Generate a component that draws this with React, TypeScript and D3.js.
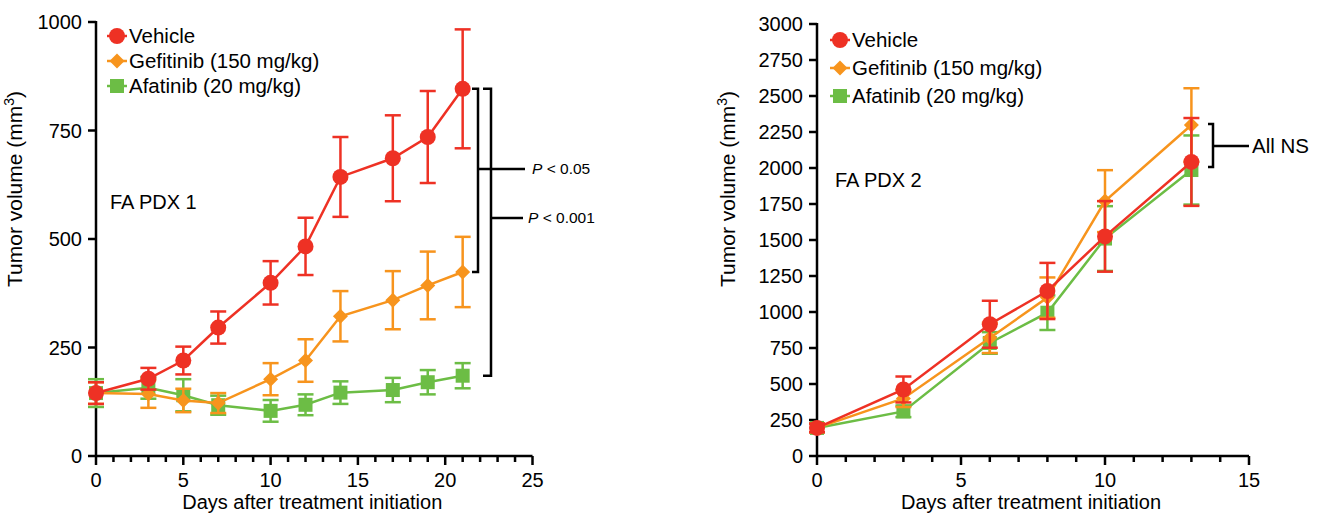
import React from 'react';
import * as d3 from 'd3';

// left panel: FA PDX 1
const days1 = [0, 3, 5, 7, 10, 12, 14, 17, 19, 21];
const vehicle1 = [145, 178, 220, 296, 399, 483, 643, 686, 735, 846];
const vehicle1Err = [25, 25, 32, 37, 50, 66, 92, 99, 106, 137];
const gefitinib1 = [145, 143, 128, 122, 177, 220, 322, 359, 393, 424];
const gefitinib1Err = [25, 32, 27, 23, 37, 49, 58, 67, 78, 81];
const afatinib1 = [145, 157, 140, 117, 104, 118, 146, 152, 170, 185];
const afatinib1Err = [32, 25, 37, 22, 25, 24, 26, 28, 28, 29];

// right panel: FA PDX 2
const days2 = [0, 3, 6, 8, 10, 13];
const vehicle2 = [195, 462, 915, 1146, 1525, 2042];
const vehicle2Err = [30, 90, 163, 195, 245, 305];
const gefitinib2 = [195, 400, 820, 1100, 1770, 2299];
const gefitinib2Err = [30, 60, 105, 140, 215, 255];
const afatinib2 = [195, 310, 785, 995, 1510, 1986];
const afatinib2Err = [30, 40, 75, 120, 225, 240];

const yTicks1 = [0, 250, 500, 750, 1000];
const yTicks2 = [0, 250, 500, 750, 1000, 1250, 1500, 1750, 2000, 2250, 2500, 2750, 3000];
const xTicks1 = [0, 5, 10, 15, 20, 25];
const xTicks2 = [0, 5, 10, 15];

const seriesNames = ['Vehicle', 'Gefitinib (150 mg/kg)', 'Afatinib (20 mg/kg)'];
const RED = '#ee3124';
const ORANGE = '#f7941d';
const GREEN = '#6cbd45';
const FONT = 'Liberation Sans, Arial, Helvetica, sans-serif';

function Marker({ shape, x, y, color }) {
  if (shape === 'circle') return <circle cx={x} cy={y} r={8} fill={color} />;
  if (shape === 'diamond')
    return <path d={`M${x},${y - 7.5}L${x + 7.5},${y}L${x},${y + 7.5}L${x - 7.5},${y}Z`} fill={color} />;
  return <rect x={x - 7} y={y - 7} width={14} height={14} fill={color} />;
}

function Series({ days, values, errs, color, shape, x, y }) {
  const line = d3.line<number>().x((d, i) => x(days[i])).y(d => y(d));
  return (
    <g>
      <path d={line(values) || ''} fill="none" stroke={color} strokeWidth={2.5} />
      {values.map((v, i) => {
        const cx = x(days[i]);
        const top = y(v + errs[i]);
        const bot = y(v - errs[i]);
        return (
          <g key={i} stroke={color} strokeWidth={2.5}>
            <line x1={cx} x2={cx} y1={top} y2={bot} />
            <line x1={cx - 8} x2={cx + 8} y1={top} y2={top} />
            <line x1={cx - 8} x2={cx + 8} y1={bot} y2={bot} />
          </g>
        );
      })}
      {values.map((v, i) => (
        <Marker key={'m' + i} shape={shape} x={x(days[i])} y={y(v)} color={color} />
      ))}
    </g>
  );
}

function Panel({ x, y, xTicks, yTicks, xMax, series, legend, label, labelPos, yLabelX }) {
  const [x0] = x.range();
  const [y0, y1] = y.range();
  const minor = d3.range(0, xMax + 1);
  return (
    <g fontFamily={FONT}>
      {/* axes */}
      <line x1={x0} x2={x0} y1={y0 + 1} y2={y1 - 1} stroke="#000" strokeWidth={2.5} />
      <line x1={x0 - 1} x2={x(xMax)} y1={y0} y2={y0} stroke="#000" strokeWidth={2.5} />
      {yTicks.map(t => (
        <g key={t}>
          <line x1={x0 - 8} x2={x0} y1={y(t)} y2={y(t)} stroke="#000" strokeWidth={2.5} />
          <text x={x0 - 14} y={y(t)} dy="0.35em" textAnchor="end" fontSize={20}>{t}</text>
        </g>
      ))}
      {minor.map(t => (
        <line key={'n' + t} x1={x(t)} x2={x(t)} y1={y0} y2={y0 + (t % 5 === 0 ? 9 : 6)} stroke="#000" strokeWidth={2.5} />
      ))}
      {xTicks.map(t => (
        <text key={'x' + t} x={x(t)} y={y0 + 31} textAnchor="middle" fontSize={20}>{t}</text>
      ))}
      <text x={(x0 + x(xMax)) / 2 - 2} y={y0 + 53} textAnchor="middle" fontSize={20}>Days after treatment initiation</text>
      <text transform={`translate(${yLabelX},189) rotate(-90)`} textAnchor="middle" fontSize={21}>
        Tumor volume (mm<tspan dy="-8" fontSize={14}>3</tspan><tspan dy="8">)</tspan>
      </text>
      <text x={labelPos[0]} y={labelPos[1]} dy="0.35em" fontSize={20}>{label}</text>
      {series.map((s, i) => (
        <Series key={i} {...s} x={x} y={y} />
      ))}
      {seriesNames.map((n, i) => {
        const s = series[2 - i];
        const ly = legend[1] + i * legend[2];
        return (
          <g key={n}>
            <line x1={legend[0] - 10} x2={legend[0] + 10} y1={ly} y2={ly} stroke={s.color} strokeWidth={2.5} />
            <Marker shape={s.shape} x={legend[0]} y={ly} color={s.color} />
            <text x={legend[0] + 12} y={ly} dy="0.35em" fontSize={20.5}>{n}</text>
          </g>
        );
      })}
    </g>
  );
}

export default function App() {
  const x1 = d3.scaleLinear().domain([0, 25]).range([96, 532.5]);
  const y1 = d3.scaleLinear().domain([0, 1000]).range([456, 22]);
  const x2 = d3.scaleLinear().domain([0, 15]).range([817, 1249]);
  const y2 = d3.scaleLinear().domain([0, 3000]).range([456, 24]);

  const s1 = [
    { days: days1, values: afatinib1, errs: afatinib1Err, color: GREEN, shape: 'square' },
    { days: days1, values: gefitinib1, errs: gefitinib1Err, color: ORANGE, shape: 'diamond' },
    { days: days1, values: vehicle1, errs: vehicle1Err, color: RED, shape: 'circle' },
  ];
  const s2 = [
    { days: days2, values: afatinib2, errs: afatinib2Err, color: GREEN, shape: 'square' },
    { days: days2, values: gefitinib2, errs: gefitinib2Err, color: ORANGE, shape: 'diamond' },
    { days: days2, values: vehicle2, errs: vehicle2Err, color: RED, shape: 'circle' },
  ];

  const bk = { stroke: '#000', strokeWidth: 2.5, fill: 'none' };

  return (
    <svg width={1322} height={521} style={{ position: 'absolute', left: 0, top: 0, background: '#fff' }}>
      <Panel x={x1} y={y1} xTicks={xTicks1} yTicks={yTicks1} xMax={25} series={s1}
        legend={[117, 36, 25]} label="FA PDX 1" labelPos={[110, 202]} yLabelX={22} />
      <Panel x={x2} y={y2} xTicks={xTicks2} yTicks={yTicks2} xMax={15} series={s2}
        legend={[840, 40, 28]} label="FA PDX 2" labelPos={[835, 180]} yLabelX={735} />

      {/* significance brackets, left panel */}
      <g fontFamily={FONT} fontSize={15.5}>
        <path d={`M472,${y1(vehicle1[9])}H478V${y1(gefitinib1[9])}H472`} {...bk} />
        <path d={`M483,${y1(vehicle1[9])}H491V${y1(afatinib1[9])}H483`} {...bk} />
        <line x1={478} x2={525} y1={169} y2={169} {...bk} />
        <line x1={491} x2={523} y1={218} y2={218} {...bk} />
        <text x={532} y={169} dy="0.35em"><tspan fontStyle="italic">P</tspan> &lt; 0.05</text>
        <text x={528} y={218} dy="0.35em"><tspan fontStyle="italic">P</tspan> &lt; 0.001</text>
      </g>
      {/* right panel bracket */}
      <g fontFamily={FONT}>
        <path d={`M1208,${y2(gefitinib2[5]) - 1}H1213V${y2(afatinib2[5]) - 3}H1208`} {...bk} />
        <line x1={1213} x2={1249} y1={146} y2={146} {...bk} />
        <text x={1252} y={146} dy="0.35em" fontSize={20.5}>All NS</text>
      </g>
    </svg>
  );
}
